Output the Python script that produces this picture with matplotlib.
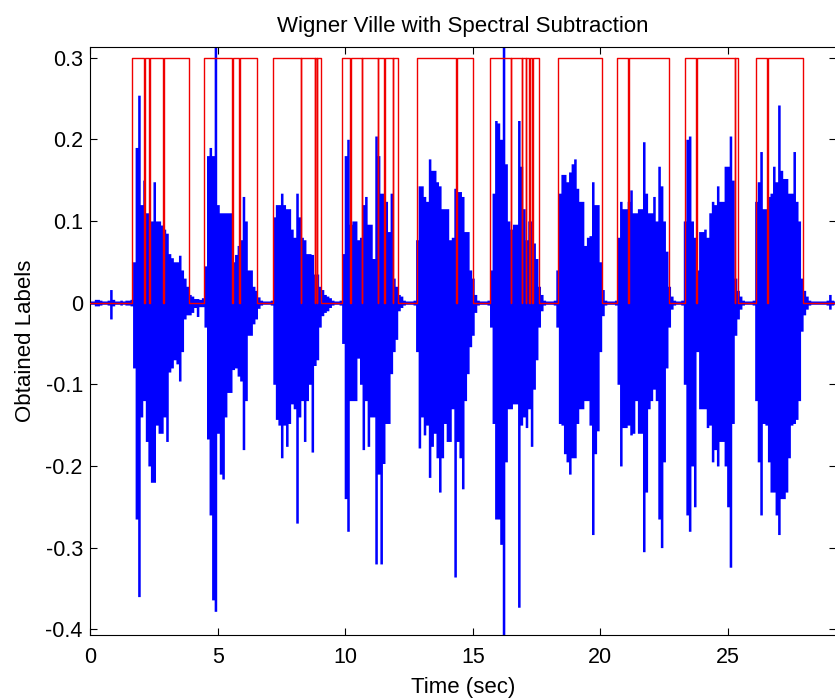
import numpy as np
import matplotlib
matplotlib.use("Agg")
import matplotlib.pyplot as plt

plt.rcParams['font.family'] = ['Liberation Sans', 'DejaVu Sans']

# ---- data -------------------------------------------------------------
dt = 0.1  # envelope sampling step (s)

wave_upper = [
    .002, .002, .004, .004, .003, .002, .002, .003, .016, .004,   # 0.x
    .002, .002, .003, .002, .003, .003, .004, .05, .19, .254,     # 1.x
    .12, .15, .11, .11, .10, .148, .10, .10, .095, .09,           # 2.x
    .085, .06, .055, .05, .05, .058, .04, .03, .02, .01,          # 3.x
    .008, .005, .005, .004, .006, .045, .18, .19, .18, .313,      # 4.x
    .12, .11, .11, .11, .11, .11, .05, .059, .07, .077,           # 5.x
    .13, .10, .04, .04, .02, .015, .007, .003, .002, .002,        # 6.x
    .002, .003, .105, .12, .12, .134, .12, .115, .115, .09,       # 7.x
    .08, .134, .105, .08, .077, .06, .06, .059, .035, .035,       # 8.x
    .02, .016, .01, .008, .006, .003, .002, .002, .003, .06,      # 9.x
    .18, .20, .096, .10, .10, .077, .08, .12, .13, .096,          # 10.x
    .096, .054, .204, .18, .134, .134, .124, .087, .134, .03,     # 11.x
    .02, .01, .008, .003, .002, .002, .002, .003, .077, .143,     # 12.x
    .143, .13, .124, .176, .162, .162, .148, .143, .115, .115,    # 13.x
    .115, .077, .08, .14, .136, .136, .13, .087, .087, .04,       # 14.x
    .03, .01, .003, .002, .002, .002, .003, .04, .134, .223,      # 15.x
    .22, .20, .313, .17, .10, .09, .096, .096, .223, .167,        # 16.x
    .115, .077, .10, .10, .073, .054, .02, .01, .003, .002,       # 17.x
    .002, .002, .003, .04, .134, .157, .157, .148, .16, .17,      # 18.x
    .176, .14, .124, .124, .07, .08, .082, .148, .12, .12,        # 19.x
    .05, .016, .003, .002, .002, .002, .003, .08, .124, .115,     # 20.x
    .115, .124, .138, .11, .11, .115, .115, .197, .134, .11,      # 21.x
    .11, .13, .10, .167, .143, .10, .063, .02, .008, .003,        # 22.x
    .002, .002, .003, .10, .20, .204, .10, .08, .04, .087,        # 23.x
    .087, .09, .08, .11, .124, .12, .143, .124, .124, .167,       # 24.x
    .167, .204, .15, .03, .015, .008, .003, .002, .002, .002,     # 25.x
    .003, .124, .148, .185, .115, .115, .13, .134, .167, .148,    # 26.x
    .242, .162, .152, .152, .134, .134, .185, .124, .10, .03,     # 27.x
    .015, .008, .003, .002, .002, .002, .002, .002, .002, .003,   # 28.x
    .01, .003, .002,                                              # 29.x
]

wave_lower = [
    -.002, -.002, -.004, -.004, -.003, -.002, -.002, -.003, -.02, -.004,
    -.002, -.002, -.003, -.002, -.003, -.003, -.004, -.08, -.265, -.36,
    -.14, -.12, -.17, -.20, -.22, -.22, -.15, -.16, -.16, -.14,
    -.17, -.085, -.08, -.07, -.075, -.096, -.06, -.02, -.015, -.015,
    -.012, -.006, -.017, -.005, -.005, -.03, -.167, -.26, -.364, -.378,
    -.16, -.21, -.216, -.14, -.11, -.11, -.082, -.08, -.09, -.096,
    -.18, -.12, -.04, -.04, -.026, -.02, -.007, -.003, -.002, -.002,
    -.002, -.003, -.10, -.143, -.15, -.19, -.15, -.176, -.148, -.124,
    -.13, -.27, -.14, -.12, -.17, -.12, -.10, -.183, -.077, -.07,
    -.03, -.016, -.012, -.01, -.006, -.003, -.002, -.002, -.003, -.05,
    -.24, -.28, -.12, -.12, -.12, -.068, -.10, -.18, -.12, -.176,
    -.14, -.14, -.32, -.21, -.32, -.197, -.148, -.148, -.087, -.06,
    -.045, -.01, -.006, -.003, -.002, -.002, -.002, -.003, -.06, -.178,
    -.14, -.162, -.15, -.214, -.176, -.16, -.19, -.232, -.19, -.148,
    -.17, -.17, -.13, -.336, -.17, -.19, -.228, -.12, -.087, -.054,
    -.04, -.012, -.003, -.002, -.002, -.002, -.003, -.03, -.148, -.265,
    -.265, -.296, -.407, -.195, -.13, -.13, -.124, -.124, -.373, -.15,
    -.14, -.153, -.13, -.176, -.106, -.07, -.03, -.01, -.003, -.002,
    -.002, -.002, -.003, -.03, -.148, -.15, -.185, -.195, -.21, -.19,
    -.19, -.148, -.13, -.13, -.12, -.12, -.15, -.284, -.185, -.157,
    -.06, -.016, -.003, -.002, -.002, -.002, -.003, -.10, -.20, -.153,
    -.153, -.15, -.162, -.16, -.12, -.16, -.16, -.305, -.232, -.13,
    -.12, -.106, -.12, -.265, -.30, -.195, -.08, -.03, -.008, -.003,
    -.002, -.002, -.003, -.10, -.26, -.28, -.20, -.25, -.06, -.13,
    -.13, -.13, -.153, -.15, -.195, -.18, -.20, -.17, -.17, -.20,
    -.25, -.324, -.148, -.04, -.02, -.008, -.003, -.002, -.002, -.002,
    -.003, -.12, -.195, -.26, -.148, -.15, -.195, -.232, -.232, -.26,
    -.284, -.24, -.24, -.232, -.19, -.15, -.148, -.143, -.12, -.035,
    -.015, -.008, -.003, -.002, -.002, -.002, -.002, -.002, -.002, -.003,
    -.008, -.003, -.002,
]

# speech labels: "on" intervals (value label_high) and short drops to 0
label_high = 0.3
label_on_start = [1.62, 4.45, 7.17, 9.88, 12.79, 15.67, 18.32, 20.64, 23.31, 26.10]
label_on_end = [3.87, 6.52, 9.06, 12.05, 14.99, 17.59, 20.05, 22.69, 25.40, 27.93]
dip_start = [2.08, 2.31, 2.86, 5.54, 5.84, 8.26, 8.81, 8.90, 10.16, 10.63, 11.29,
             11.50, 11.87, 14.32, 16.49, 16.91, 17.10, 17.18, 17.32, 21.10,
             23.75, 25.27, 26.52]
dip_end = [2.13, 2.35, 2.90, 5.58, 5.88, 8.26, 8.81, 8.90, 10.20, 10.63, 11.29,
           11.54, 11.87, 14.36, 16.49, 16.91, 17.10, 17.22, 17.36, 21.14,
           23.79, 25.27, 26.56]

x_end = 29.22
xticks = [0, 5, 10, 15, 20, 25]
yticks = [-0.4, -0.3, -0.2, -0.1, 0, 0.1, 0.2, 0.3]
ytick_labels = ["-0.4", "-0.3", "-0.2", "-0.1", "0", "0.1", "0.2", "0.3"]

# ---- build label step path from the interval data ---------------------
lx, ly = [0.0], [0.0]
for s, e in zip(label_on_start, label_on_end):
    lx += [s, s]
    ly += [0.0, label_high]
    for ds, de in zip(dip_start, dip_end):
        if s < ds < e:
            lx += [ds, ds, de, de]
            ly += [label_high, 0.0, 0.0, label_high]
    lx += [e, e]
    ly += [label_high, 0.0]
lx.append(x_end)
ly.append(0.0)

t = np.arange(len(wave_upper)) * dt

# ---- figure -----------------------------------------------------------
fig = plt.figure(figsize=(8.35, 7.0), dpi=100)
ax = fig.add_axes([0.10838, 0.09286, 0.89222, 0.84])

ax.fill_between(t, wave_lower, wave_upper, step='mid', color='#0000ff',
                linewidth=0, zorder=2)
ax.plot(lx, ly, color='#f00000', linewidth=1.0, zorder=3)

ax.set_xlim(0, x_end)
ax.set_ylim(-0.407, 0.313)
ax.set_xticks(xticks)
ax.set_xticklabels([str(v) for v in xticks])
ax.set_yticks(yticks)
ax.set_yticklabels(ytick_labels)

ax.tick_params(direction='in', length=5, width=0.8, top=True, right=True,
               labelsize=15.5, pad=5.5, colors='black')
ax.tick_params(axis='x', pad=9)
for sp in ax.spines.values():
    sp.set_linewidth(0.8)
    sp.set_color('black')

ax.set_title("Wigner Ville with Spectral Subtraction", fontsize=16, pad=10.8)
ax.set_xlabel("Time (sec)", fontsize=16, labelpad=6)
ax.set_ylabel("Obtained Labels", fontsize=16, labelpad=7)

fig.savefig("out.png", dpi=100)
